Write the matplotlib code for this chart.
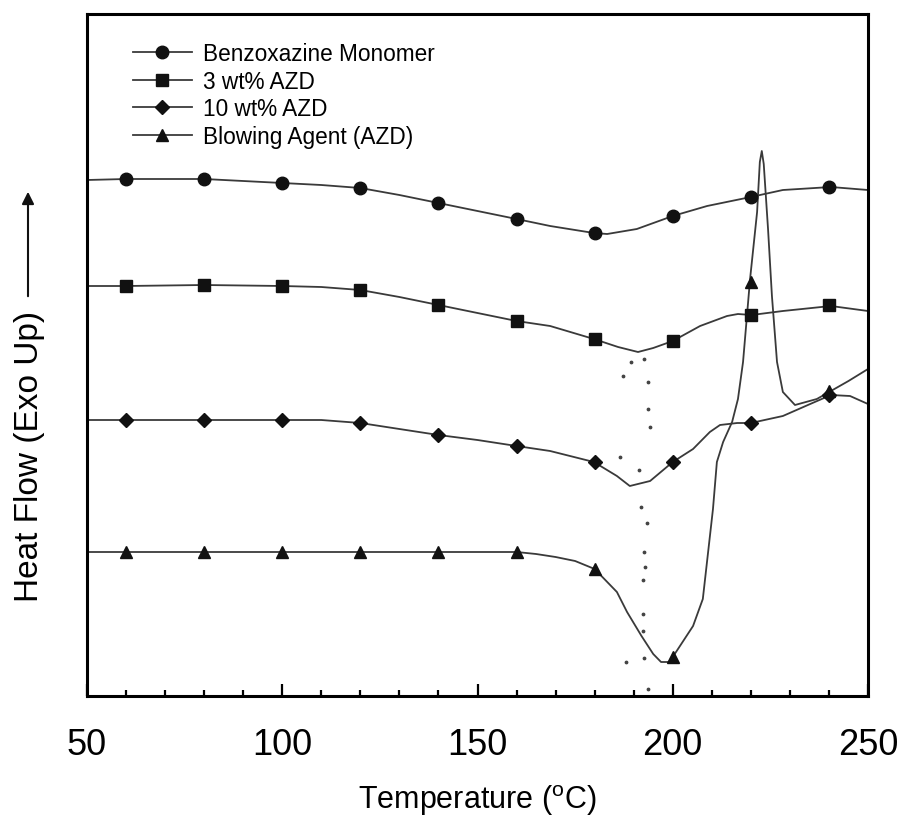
import numpy as np
import matplotlib
matplotlib.use("Agg")
import matplotlib.pyplot as plt
from matplotlib.lines import Line2D

plt.rcParams['font.family'] = ['Liberation Sans', 'DejaVu Sans']
plt.rcParams['mathtext.fontset'] = 'custom'
plt.rcParams['mathtext.rm'] = 'Liberation Sans'

# DSC traces, heat flow in arbitrary units (shifted for display)
t_bz = [50, 60, 80, 100, 110, 120, 130, 140, 150, 160, 168.6, 179.8, 183.2, 190.8, 200, 208.8, 220, 228.2, 240.5, 250]
h_bz = [5.16, 5.17, 5.17, 5.13, 5.11, 5.08, 5.01, 4.93, 4.85, 4.77, 4.70, 4.63, 4.62, 4.67, 4.80, 4.90, 4.99, 5.06, 5.09, 5.06]

t_3 = [50, 60, 80, 100, 110, 120, 130, 140, 150, 160, 168.6, 179.8, 186, 191.1, 195, 200, 207, 213.9, 216.7, 220.2, 228.2, 240.5, 250]
h_3 = [4.10, 4.10, 4.11, 4.10, 4.09, 4.06, 3.99, 3.91, 3.83, 3.75, 3.70, 3.57, 3.49, 3.44, 3.48, 3.55, 3.70, 3.80, 3.82, 3.81, 3.85, 3.90, 3.85]

t_10 = [50, 60, 80, 100, 110, 120, 130, 140, 150, 160, 168.6, 179.8, 185.7, 189, 194.2, 200, 205.2, 209.5, 212.1, 216.5, 220, 228.2, 235.2, 240.5, 245.4, 250]
h_10 = [2.76, 2.76, 2.76, 2.76, 2.76, 2.73, 2.67, 2.61, 2.56, 2.50, 2.45, 2.34, 2.20, 2.10, 2.15, 2.34, 2.47, 2.64, 2.71, 2.73, 2.73, 2.80, 2.92, 3.01, 3.00, 2.92]

t_azd = [50, 100, 160, 165, 170, 175, 180, 185.7, 188.3, 192, 195, 197, 199, 200, 205.2, 207.7, 210.3, 211.3, 212.9,
         215.2, 216.7, 218.0, 219.8, 221.6, 222.3, 222.8, 223.3, 224.4, 225.4, 226.7, 228.2, 231.3, 236.9, 240.5, 245, 250]
h_azd = [1.44, 1.44, 1.44, 1.42, 1.39, 1.35, 1.27, 1.04, 0.84, 0.60, 0.42, 0.34, 0.34, 0.39, 0.70, 0.97, 1.87, 2.34, 2.54,
         2.74, 2.97, 3.34, 4.17, 4.84, 5.34, 5.45, 5.32, 4.67, 4.00, 3.34, 3.04, 2.91, 2.97, 3.05, 3.15, 3.27]

# marker positions
t_mk = [60, 80, 100, 120, 140, 160, 180, 200, 220, 240]
mk_bz = [5.17, 5.17, 5.13, 5.08, 4.93, 4.77, 4.63, 4.80, 4.99, 5.09]
mk_3 = [4.10, 4.11, 4.10, 4.06, 3.91, 3.75, 3.57, 3.55, 3.81, 3.91]
mk_10 = [2.76, 2.76, 2.76, 2.73, 2.61, 2.50, 2.34, 2.34, 2.73, 3.01]
mk_azd = [1.44, 1.44, 1.44, 1.44, 1.44, 1.44, 1.27, 0.39, 4.14, 3.05]

# scattered dots near the onset
dot_t = [189.3, 192.6, 187.3, 193.7, 193.7, 194.2, 186.5, 191.4, 191.9, 193.4, 192.6, 192.9, 192.4, 192.4, 192.4, 188.0, 192.6, 193.7]
dot_h = [3.34, 3.37, 3.20, 3.14, 2.87, 2.69, 2.39, 2.26, 1.89, 1.73, 1.44, 1.29, 1.16, 0.82, 0.65, 0.34, 0.38, 0.07]

labels = ['Benzoxazine Monomer', '3 wt% AZD', '10 wt% AZD', 'Blowing Agent (AZD)']
markers = ['o', 's', 'D', '^']
msizes = [9, 9, 7, 9]

fig = plt.figure(figsize=(9.01, 8.20), dpi=100)
ax = fig.add_axes([87/901, 123/820, 781/901, 682/820])

lc = '#3a3a3a'
mc = '#111111'
series = [(t_bz, h_bz, mk_bz), (t_3, h_3, mk_3), (t_10, h_10, mk_10), (t_azd, h_azd, mk_azd)]
for (tt, hh, mk), m, ms in zip(series, markers, msizes):
    ax.plot(tt, hh, color=lc, lw=1.3, zorder=2)
    ax.plot(t_mk, mk, ls='none', marker=m, ms=ms, color=mc, zorder=3)

ax.scatter(dot_t, dot_h, s=3, color='#444444', zorder=1)

ax.set_xlim(50, 250)
ax.set_ylim(0, 6.82)
ax.set_yticks([])
ax.set_xticks([50, 100, 150, 200, 250])
ax.set_xticks(np.arange(60, 250, 10), minor=True)
ax.tick_params(axis='x', which='major', direction='in', length=9, width=1.6, labelsize=26, pad=22)
ax.tick_params(axis='x', which='minor', direction='in', length=4, width=1.6)
for s in ax.spines.values():
    s.set_linewidth(2.2)

ax.set_xlabel('Temperature ($^{\\rm o}$C)', fontsize=22, labelpad=15)

# y label with arrow
fig.text(30/901, 1 - 456/820, 'Heat Flow (Exo Up)', rotation=90, fontsize=24,
         ha='center', va='center')
fig.add_artist(matplotlib.patches.FancyArrowPatch((28/901, 1 - 300/820), (28/901, 1 - 190/820),
               transform=fig.transFigure, arrowstyle='-|>', mutation_scale=18, lw=1.5, color='#111111'))

handles = [Line2D([0], [0], color=lc, lw=1.3, marker=m, ms=ms, markerfacecolor=mc, markeredgecolor=mc)
           for m, ms in zip(markers, msizes)]
ax.legend(handles, labels, loc='upper left', bbox_to_anchor=(0.047, 0.972), frameon=False, fontsize=16.3,
          handlelength=2.6, handletextpad=0.5, labelspacing=0.2, borderaxespad=0)

fig.savefig('out.png', dpi=100)
